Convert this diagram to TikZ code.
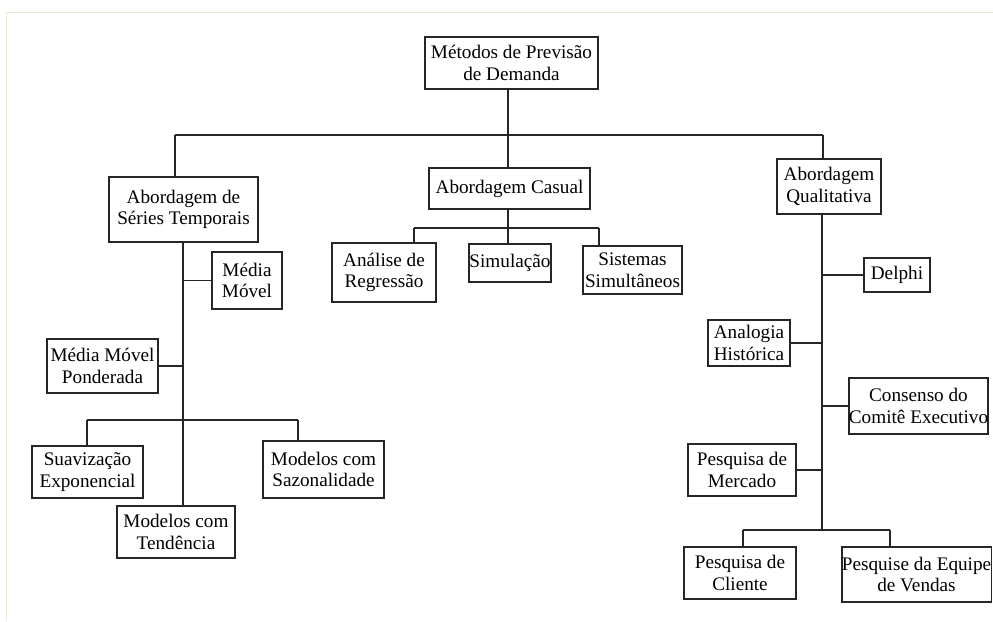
\documentclass[tikz,border=0pt]{standalone}
\usepackage{fontspec}
\setmainfont{Liberation Serif}
\begin{document}
\begin{tikzpicture}[x=1pt,y=-1pt,
  box/.style={draw=black!85,line width=1.3pt,fill=white,inner sep=0pt,align=center,
    font=\fontsize{19.2}{21.7}\selectfont},
  conn/.style={draw=black!85,line width=1.2pt},
  frameline/.style={draw={rgb,255:red,232;green,232;blue,214},line width=1pt}]
\useasboundingbox (0,0) rectangle (993,621);
\fill[white] (0,0) rectangle (993,621);
\draw[frameline] (6,621) -- (6,12) -- (993,12);
% nodes
\node[box,minimum width=173,minimum height=52] (root) at (511.5,63) {Métodos de Previsão\\de Demanda};
\node[box,minimum width=149,minimum height=65] (series) at (183.5,209.5) {Abordagem de\\Séries Temporais};
\node[box,minimum width=70,minimum height=57] (mm) at (247,280.5) {Média\\Móvel};
\node[box,minimum width=111,minimum height=54] (mmp) at (102.5,366) {Média Móvel\\Ponderada};
\node[box,minimum width=111,minimum height=52] (suav) at (87.5,472) {Suavização\\Exponencial};
\node[box,minimum width=121,minimum height=57] (saz) at (323.5,469.5) {Modelos com\\Sazonalidade};
\node[box,minimum width=118,minimum height=52] (tend) at (176,532) {Modelos com\\Tendência};
\node[box,minimum width=161,minimum height=41] (casual) at (509.5,188.5) {Abordagem Casual};
\node[box,minimum width=104,minimum height=59] (regr) at (384,272.5) {Análise de\\Regressão};
\node[box,minimum width=82,minimum height=38] (sim) at (510,263) {Simulação};
\node[box,minimum width=99,minimum height=48] (sist) at (632.5,270) {Sistemas\\Simultâneos};
\node[box,minimum width=104,minimum height=55] (qual) at (829,186.5) {Abordagem\\Qualitativa};
\node[box,minimum width=66,minimum height=34] (delphi) at (897,275) {Delphi};
\node[box,minimum width=82,minimum height=46] (analog) at (749,343) {Analogia\\Histórica};
\node[box,minimum width=139,minimum height=56] (consenso) at (918.5,406) {Consenso do\\Comitê Executivo};
\node[box,minimum width=108,minimum height=52] (merc) at (742,470) {Pesquisa de\\Mercado};
\node[box,minimum width=112,minimum height=52] (cliente) at (740,573) {Pesquisa de\\Cliente};
\node[box,minimum width=147,minimum height=55] (equipe) at (916.5,574.5) {Pesquise da Equipe\\de Vendas};
% junction coordinates
\coordinate (hub) at (508,135);
\coordinate (tl) at (175,135);
\coordinate (tr) at (823,135);
\coordinate (sspine) at (183,0);
\coordinate (sb) at (183,420);
\coordinate (sbl) at (87,420);
\coordinate (sbr) at (298,420);
\coordinate (cb) at (508,228);
\coordinate (cbl) at (414,228);
\coordinate (cbr) at (599,228);
\coordinate (qspine) at (822,0);
\coordinate (qb) at (822,530);
\coordinate (qbl) at (743,530);
\coordinate (qbr) at (890,530);
% top level
\draw[conn] (root.south -| hub) -- (hub);
\draw[conn] (tl) -- (tr);
\draw[conn] (tl) -- (tl |- series.north);
\draw[conn] (hub) -- (hub |- casual.north);
\draw[conn] (tr) -- (tr |- qual.north);
% series
\draw[conn] (sspine |- series.south) -- (sspine |- tend.north);
\draw[conn] (sspine |- mm.west) -- (mm.west);
\draw[conn] (mmp.east) -- (sspine |- mmp.east);
\draw[conn] (sbl) -- (sbr);
\draw[conn] (sbl) -- (sbl |- suav.north);
\draw[conn] (sbr) -- (sbr |- saz.north);
% casual
\draw[conn] (cb |- casual.south) -- (cb);
\draw[conn] (cbl) -- (cbr);
\draw[conn] (cbl) -- (cbl |- regr.north);
\draw[conn] (cb) -- (cb |- sim.north);
\draw[conn] (cbr) -- (cbr |- sist.north);
% qualitative
\draw[conn] (qspine |- qual.south) -- (qb);
\draw[conn] (qspine |- delphi.west) -- (delphi.west);
\draw[conn] (analog.east) -- (qspine |- analog.east);
\draw[conn] (qspine |- consenso.west) -- (consenso.west);
\draw[conn] (merc.east) -- (qspine |- merc.east);
\draw[conn] (qbl) -- (qbr);
\draw[conn] (qbl) -- (qbl |- cliente.north);
\draw[conn] (qbr) -- (qbr |- equipe.north);
\end{tikzpicture}
\end{document}
